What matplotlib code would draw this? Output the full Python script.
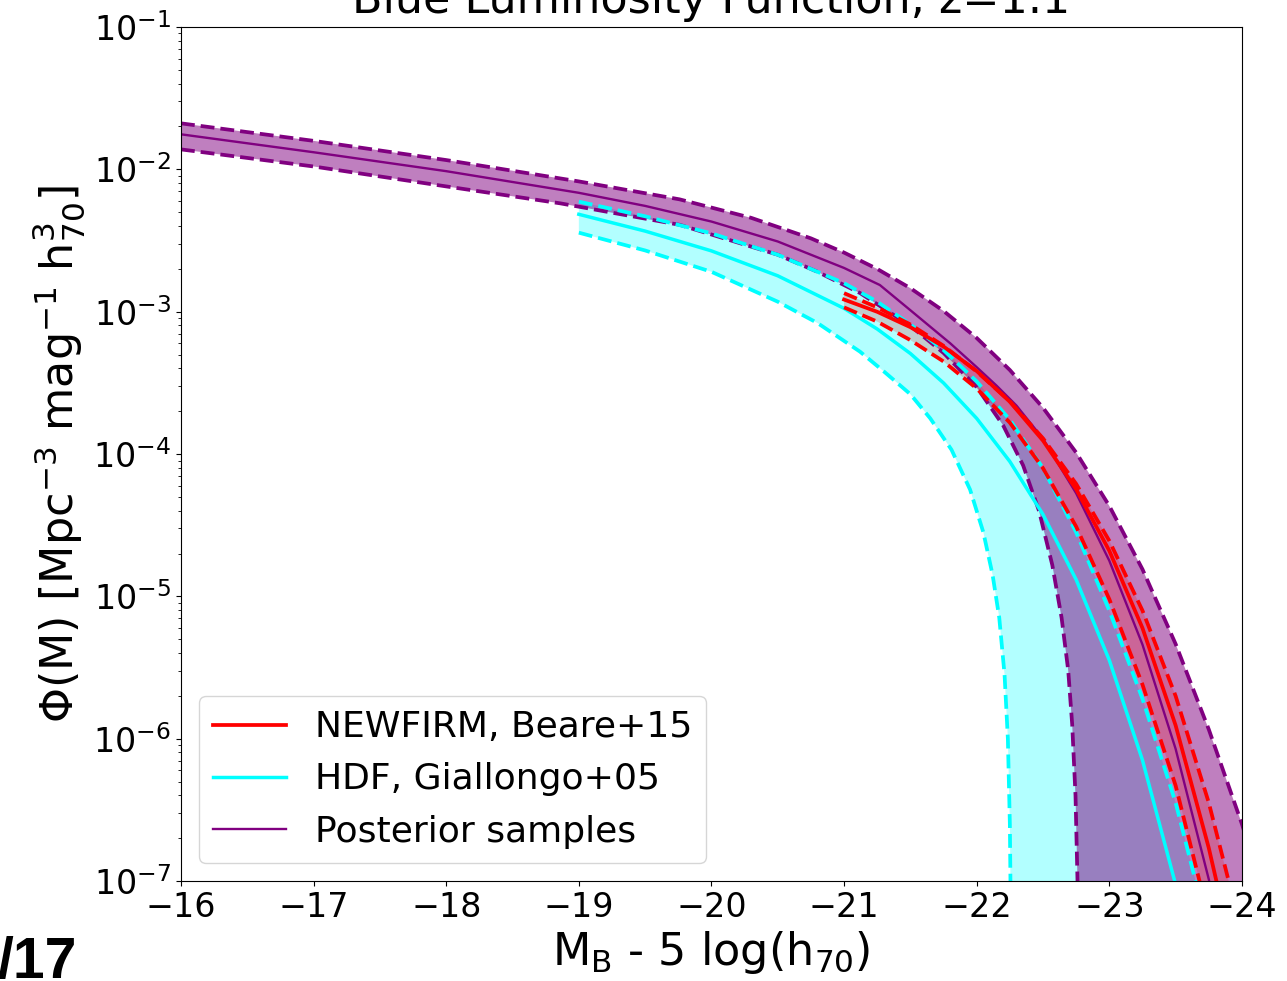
import numpy as np
import matplotlib
matplotlib.use("Agg")
import matplotlib.pyplot as plt

# values are log10(Phi), vs M_B - 5 log(h70)

# posterior samples (purple)
post_mid_M = [-16, -17, -18, -19, -19.5, -20, -20.5, -21, -21.27, -21.5, -21.8, -22, -22.15,
              -22.3, -22.5, -22.75, -23, -23.25, -23.5, -23.75, -23.85]
post_mid_lp = [-1.754, -1.880, -2.013, -2.165, -2.257, -2.367, -2.507, -2.693, -2.813, -2.99,
               -3.222, -3.39, -3.52, -3.66, -3.893, -4.276, -4.750, -5.339, -6.072, -6.988, -7.416]
post_hi_M = [-16, -17, -18, -19, -19.76, -20.3, -20.75, -21, -21.25, -21.5, -21.75, -22,
             -22.25, -22.5, -22.75, -23, -23.25, -23.5, -23.75, -24, -24.2]
post_hi_lp = [-1.677, -1.80, -1.935, -2.085, -2.211, -2.341, -2.485, -2.585, -2.70, -2.835,
              -2.995, -3.185, -3.41, -3.675, -3.99, -4.365, -4.81, -5.335, -5.935, -6.60, -7.2]
post_lo_M = [-16, -17, -18, -18.86, -19.76, -20.5, -20.8, -21.12, -21.5, -21.75, -22, -22.2,
             -22.35, -22.47, -22.57, -22.64, -22.69, -22.72, -22.745, -22.76, -22.77]
post_lo_lp = [-1.86, -1.98, -2.12, -2.239, -2.39, -2.60, -2.72, -2.869, -3.10, -3.29, -3.53,
              -3.80, -4.08, -4.40, -4.78, -5.15, -5.52, -5.9, -6.4, -7.0, -7.5]

# HDF, Giallongo+05 (cyan)
hdf_mid_M = [-19, -19.5, -20, -20.5, -21, -21.25, -21.5, -21.75, -22, -22.25, -22.5, -22.75,
             -23, -23.25, -23.5, -23.6]
hdf_mid_lp = [-2.316, -2.434, -2.573, -2.748, -2.977, -3.122, -3.294, -3.501, -3.750, -4.053,
              -4.425, -4.883, -5.449, -6.151, -7.025, -7.432]
hdf_hi_M = [-19, -19.5, -20, -20.5, -21, -21.25, -21.5, -21.75, -22, -22.25, -22.5, -22.75,
            -23, -23.25, -23.5, -23.65, -23.75]
hdf_hi_lp = [-2.227, -2.33, -2.45, -2.60, -2.80, -2.93, -3.09, -3.27, -3.49, -3.76, -4.10,
             -4.55, -5.1, -5.72, -6.45, -7.0, -7.4]
hdf_lo_M = [-19, -19.5, -20, -20.5, -20.8, -21.12, -21.3, -21.5, -21.65, -21.81, -21.95, -22.05,
            -22.12, -22.17, -22.21, -22.235, -22.25, -22.26]
hdf_lo_lp = [-2.445, -2.57, -2.72, -2.93, -3.08, -3.281, -3.42, -3.58, -3.75, -3.97, -4.25,
             -4.55, -4.85, -5.15, -5.55, -6.0, -6.6, -7.5]

# NEWFIRM, Beare+15 (red)
nf_mid_M = [-21, -21.25, -21.5, -21.75, -22, -22.25, -22.5, -22.75, -23, -23.25, -23.5,
            -23.75, -23.85]
nf_mid_lp = [-2.915, -3.001, -3.109, -3.245, -3.417, -3.633, -3.906, -4.248, -4.680, -5.223,
             -5.907, -6.768, -7.172]
nf_hi_M = [-21, -21.25, -21.5, -21.75, -22, -22.25, -22.5, -22.75, -23, -23.25, -23.5, -23.75,
           -23.9, -24.0]
nf_hi_lp = [-2.87, -2.97, -3.09, -3.24, -3.42, -3.63, -3.89, -4.21, -4.61, -5.10, -5.70, -6.45,
            -7.0, -7.4]
nf_lo_M = [-21, -21.25, -21.5, -21.75, -22, -22.25, -22.5, -22.75, -23, -23.25, -23.5, -23.68,
           -23.8]
nf_lo_lp = [-2.97, -3.07, -3.20, -3.35, -3.54, -3.78, -4.10, -4.51, -5.02, -5.62, -6.33, -7.0,
            -7.5]


def phi(lp):
    return 10.0 ** np.asarray(lp)


def band(ax, xs_hi, lp_hi, xs_lo, lp_lo, color, alpha):
    x = list(xs_hi) + list(xs_lo)[::-1]
    y = list(phi(lp_hi)) + list(phi(lp_lo))[::-1]
    ax.fill(x, y, color=color, alpha=alpha, lw=0)


fig = plt.figure(figsize=(12.87, 9.81), dpi=100)
ax = fig.add_axes([0.1406, 0.1019, 0.8244, 0.8706])

band(ax, hdf_hi_M, hdf_hi_lp, hdf_lo_M, hdf_lo_lp, "cyan", 0.3)
band(ax, post_hi_M, post_hi_lp, post_lo_M, post_lo_lp, "purple", 0.5)
band(ax, nf_hi_M, nf_hi_lp, nf_lo_M, nf_lo_lp, "red", 0.2)

ax.plot(post_mid_M, phi(post_mid_lp), color="purple", lw=1.7, label="Posterior samples")
ax.plot(post_hi_M, phi(post_hi_lp), color="purple", lw=2.7, ls="--")
ax.plot(post_lo_M, phi(post_lo_lp), color="purple", lw=2.7, ls="--")

ax.plot(hdf_mid_M, phi(hdf_mid_lp), color="cyan", lw=2.5, label="HDF, Giallongo+05")
ax.plot(hdf_hi_M, phi(hdf_hi_lp), color="cyan", lw=2.7, ls="--")
ax.plot(hdf_lo_M, phi(hdf_lo_lp), color="cyan", lw=2.7, ls="--")

ax.plot(nf_mid_M, phi(nf_mid_lp), color="red", lw=2.7, label="NEWFIRM, Beare+15")
ax.plot(nf_hi_M, phi(nf_hi_lp), color="red", lw=2.7, ls="--")
ax.plot(nf_lo_M, phi(nf_lo_lp), color="red", lw=2.7, ls="--")

ax.set_yscale("log")
ax.set_xlim(-16, -24)
ax.set_ylim(1e-7, 1e-1)
ax.tick_params(labelsize=24)
ax.set_xlabel(r"M$_\mathrm{B}$ - 5 log(h$_{70}$)", fontsize=32)
ax.set_ylabel(r"$\Phi$(M) [Mpc$^{-3}$ mag$^{-1}$ h$^{3}_{70}$]", fontsize=32)
ax.set_title("Blue Luminosity Function, z=1.1", fontsize=32, pad=10)

h, l = ax.get_legend_handles_labels()
ax.legend(h[::-1], l[::-1], loc="lower left", fontsize=26)

fig.text(77 / 1287, 0.003, "/17", ha="right", va="baseline", fontsize=41,
         fontweight="bold", family="Liberation Sans")

fig.savefig("out.png", dpi=100)
